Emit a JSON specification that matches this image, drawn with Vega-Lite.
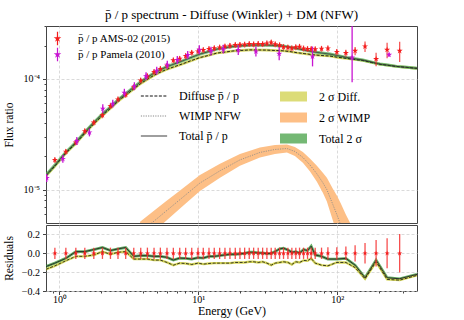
{
"$schema": "https://vega.github.io/schema/vega-lite/v6.json",
"padding": {"left": 2, "top": 8, "right": 10, "bottom": 2},
"config": {
 "font": "Liberation Serif",
 "view": {"stroke": "#444", "strokeWidth": 1},
 "axis": {"labelFont": "Liberation Serif", "titleFont": "Liberation Serif", "labelFontSize": 10, "titleFontSize": 11.5, "titleFontWeight": "normal", "labelColor": "#000", "titleColor": "#000", "tickColor": "#444", "gridColor": "#d0d0d0", "gridDash": [3, 2], "gridWidth": 0.8, "domain": false, "tickSize": 3.5, "labelOverlap": false},
 "legend": {"labelFont": "Liberation Serif", "labelColor": "#000"},
 "title": {"font": "Liberation Serif", "fontSize": 13, "fontWeight": "normal", "color": "#000"}
},
"datasets": {
 "ams": [
  {"E":0.927,"R":1.85e-5,"lo":1.739e-5,"hi":1.961e-5,"rlo":-0.06,"rhi":0.06},
  {"E":1.112,"R":2.20e-5,"lo":2.068e-5,"hi":2.332e-5,"rlo":-0.06,"rhi":0.06},
  {"E":1.312,"R":2.67e-5,"lo":2.510e-5,"hi":2.830e-5,"rlo":-0.06,"rhi":0.06},
  {"E":1.523,"R":3.37e-5,"lo":3.168e-5,"hi":3.572e-5,"rlo":-0.06,"rhi":0.06},
  {"E":1.768,"R":4.03e-5,"lo":3.788e-5,"hi":4.272e-5,"rlo":-0.06,"rhi":0.06},
  {"E":2.04,"R":4.69e-5,"lo":4.409e-5,"hi":4.971e-5,"rlo":-0.06,"rhi":0.06},
  {"E":2.33,"R":5.69e-5,"lo":5.349e-5,"hi":6.031e-5,"rlo":-0.06,"rhi":0.06},
  {"E":2.64,"R":6.53e-5,"lo":6.138e-5,"hi":6.922e-5,"rlo":-0.06,"rhi":0.06},
  {"E":3.00,"R":7.19e-5,"lo":6.759e-5,"hi":7.621e-5,"rlo":-0.06,"rhi":0.06},
  {"E":3.43,"R":8.41e-5,"lo":7.905e-5,"hi":8.915e-5,"rlo":-0.06,"rhi":0.06},
  {"E":3.85,"R":9.66e-5,"lo":9.080e-5,"hi":1.024e-4,"rlo":-0.06,"rhi":0.06},
  {"E":4.30,"R":1.055e-4,"lo":9.917e-5,"hi":1.118e-4,"rlo":-0.06,"rhi":0.06},
  {"E":4.80,"R":1.155e-4,"lo":1.086e-4,"hi":1.224e-4,"rlo":-0.06,"rhi":0.06},
  {"E":5.33,"R":1.23e-4,"lo":1.156e-4,"hi":1.304e-4,"rlo":-0.06,"rhi":0.06},
  {"E":5.95,"R":1.315e-4,"lo":1.236e-4,"hi":1.394e-4,"rlo":-0.06,"rhi":0.06},
  {"E":6.61,"R":1.47e-4,"lo":1.382e-4,"hi":1.558e-4,"rlo":-0.06,"rhi":0.06},
  {"E":7.35,"R":1.52e-4,"lo":1.429e-4,"hi":1.611e-4,"rlo":-0.06,"rhi":0.06},
  {"E":8.11,"R":1.61e-4,"lo":1.513e-4,"hi":1.707e-4,"rlo":-0.06,"rhi":0.06},
  {"E":8.97,"R":1.72e-4,"lo":1.617e-4,"hi":1.823e-4,"rlo":-0.06,"rhi":0.06},
  {"E":9.95,"R":1.77e-4,"lo":1.664e-4,"hi":1.876e-4,"rlo":-0.06,"rhi":0.06},
  {"E":10.86,"R":1.82e-4,"lo":1.711e-4,"hi":1.929e-4,"rlo":-0.06,"rhi":0.06},
  {"E":11.94,"R":1.86e-4,"lo":1.748e-4,"hi":1.972e-4,"rlo":-0.06,"rhi":0.06},
  {"E":13.03,"R":1.89e-4,"lo":1.777e-4,"hi":2.003e-4,"rlo":-0.06,"rhi":0.06},
  {"E":14.25,"R":1.92e-4,"lo":1.805e-4,"hi":2.035e-4,"rlo":-0.06,"rhi":0.06},
  {"E":15.56,"R":1.96e-4,"lo":1.842e-4,"hi":2.078e-4,"rlo":-0.06,"rhi":0.06},
  {"E":16.90,"R":1.99e-4,"lo":1.871e-4,"hi":2.109e-4,"rlo":-0.06,"rhi":0.06},
  {"E":18.46,"R":2.02e-4,"lo":1.899e-4,"hi":2.141e-4,"rlo":-0.06,"rhi":0.06},
  {"E":19.95,"R":2.03e-4,"lo":1.908e-4,"hi":2.152e-4,"rlo":-0.06,"rhi":0.06},
  {"E":21.57,"R":2.04e-4,"lo":1.918e-4,"hi":2.162e-4,"rlo":-0.06,"rhi":0.06},
  {"E":23.28,"R":2.06e-4,"lo":1.936e-4,"hi":2.184e-4,"rlo":-0.06,"rhi":0.06},
  {"E":25.03,"R":2.05e-4,"lo":1.927e-4,"hi":2.173e-4,"rlo":-0.06,"rhi":0.06},
  {"E":27.0,"R":2.07e-4,"lo":1.946e-4,"hi":2.194e-4,"rlo":-0.06,"rhi":0.06},
  {"E":29.06,"R":2.06e-4,"lo":1.936e-4,"hi":2.184e-4,"rlo":-0.06,"rhi":0.06},
  {"E":31.2,"R":2.09e-4,"lo":1.965e-4,"hi":2.215e-4,"rlo":-0.06,"rhi":0.06},
  {"E":33.5,"R":2.13e-4,"lo":2.002e-4,"hi":2.258e-4,"rlo":-0.06,"rhi":0.06},
  {"E":35.8,"R":2.05e-4,"lo":1.927e-4,"hi":2.173e-4,"rlo":-0.06,"rhi":0.06},
  {"E":38.5,"R":2.01e-4,"lo":1.889e-4,"hi":2.131e-4,"rlo":-0.06,"rhi":0.06},
  {"E":41.1,"R":1.94e-4,"lo":1.824e-4,"hi":2.056e-4,"rlo":-0.06,"rhi":0.06},
  {"E":44.2,"R":1.92e-4,"lo":1.805e-4,"hi":2.035e-4,"rlo":-0.06,"rhi":0.06},
  {"E":47.2,"R":1.89e-4,"lo":1.777e-4,"hi":2.003e-4,"rlo":-0.06,"rhi":0.06},
  {"E":50.4,"R":1.93e-4,"lo":1.814e-4,"hi":2.046e-4,"rlo":-0.06,"rhi":0.06},
  {"E":53.6,"R":1.95e-4,"lo":1.833e-4,"hi":2.067e-4,"rlo":-0.06,"rhi":0.06},
  {"E":57.3,"R":1.88e-4,"lo":1.767e-4,"hi":1.993e-4,"rlo":-0.06,"rhi":0.06},
  {"E":61.2,"R":1.86e-4,"lo":1.748e-4,"hi":1.972e-4,"rlo":-0.06,"rhi":0.06},
  {"E":65.0,"R":1.86e-4,"lo":1.748e-4,"hi":1.972e-4,"rlo":-0.06,"rhi":0.06},
  {"E":69.5,"R":1.85e-4,"lo":1.739e-4,"hi":1.961e-4,"rlo":-0.06,"rhi":0.06},
  {"E":77.2,"R":1.87e-4,"lo":1.758e-4,"hi":1.982e-4,"rlo":-0.06,"rhi":0.06},
  {"E":85.8,"R":1.88e-4,"lo":1.758e-4,"hi":2.002e-4,"rlo":-0.065,"rhi":0.065},
  {"E":99.5,"R":1.75e-4,"lo":1.636e-4,"hi":1.864e-4,"rlo":-0.065,"rhi":0.065},
  {"E":115.6,"R":1.71e-4,"lo":1.587e-4,"hi":1.833e-4,"rlo":-0.072,"rhi":0.072},
  {"E":134.7,"R":1.79e-4,"lo":1.636e-4,"hi":1.944e-4,"rlo":-0.086,"rhi":0.086},
  {"E":158.8,"R":1.96e-4,"lo":1.748e-4,"hi":2.172e-4,"rlo":-0.108,"rhi":0.108},
  {"E":190.8,"R":1.51e-4,"lo":1.299e-4,"hi":1.721e-4,"rlo":-0.14,"rhi":0.14},
  {"E":229,"R":1.83e-4,"lo":1.537e-4,"hi":2.123e-4,"rlo":-0.16,"rhi":0.16},
  {"E":282,"R":1.79e-4,"lo":1.423e-4,"hi":2.157e-4,"rlo":-0.205,"rhi":0.205}
 ],
 "pamela": [
  {"E":0.81,"R":1.273e-5,"lo":1.172e-5,"hi":1.382e-5},
  {"E":1.058,"R":1.895e-5,"lo":1.745e-5,"hi":2.058e-5},
  {"E":1.334,"R":2.745e-5,"lo":2.528e-5,"hi":2.981e-5},
  {"E":1.644,"R":3.285e-5,"lo":3.025e-5,"hi":3.568e-5},
  {"E":2.052,"R":5.386e-5,"lo":4.910e-5,"hi":5.908e-5},
  {"E":2.422,"R":5.973e-5,"lo":5.500e-5,"hi":6.487e-5},
  {"E":2.935,"R":7.49e-5,"lo":6.897e-5,"hi":8.134e-5},
  {"E":3.464,"R":8.585e-5,"lo":7.905e-5,"hi":9.323e-5},
  {"E":4.205,"R":1.055e-4,"lo":9.715e-5,"hi":1.146e-4},
  {"E":5.021,"R":1.186e-4,"lo":1.092e-4,"hi":1.288e-4},
  {"E":5.98,"R":1.343e-4,"lo":1.237e-4,"hi":1.458e-4},
  {"E":7.06,"R":1.479e-4,"lo":1.362e-4,"hi":1.606e-4},
  {"E":8.39,"R":1.64e-4,"lo":1.510e-4,"hi":1.781e-4},
  {"E":10.17,"R":1.83e-4,"lo":1.668e-4,"hi":2.008e-4},
  {"E":12.34,"R":1.781e-4,"lo":1.624e-4,"hi":1.954e-4},
  {"E":15.13,"R":1.856e-4,"lo":1.692e-4,"hi":2.036e-4},
  {"E":19.4,"R":1.818e-4,"lo":1.639e-4,"hi":2.016e-4},
  {"E":26.0,"R":1.767e-4,"lo":1.593e-4,"hi":1.960e-4},
  {"E":38.25,"R":1.684e-4,"lo":1.472e-4,"hi":1.926e-4},
  {"E":66.5,"R":1.593e-4,"lo":1.296e-4,"hi":1.958e-4},
  {"E":128.2,"R":1.561e-4,"lo":9.3e-5,"hi":3.4e-4},
  {"E":236.6,"R":1.65e-4,"lo":1.583e-4,"hi":1.719e-4}
 ],
 "curves": [
  {"E":0.802,"total":1.362e-5,"diffuse":1.334e-5},
  {"E":0.931,"total":1.674e-5,"diffuse":1.640e-5},
  {"E":1.099,"total":2.144e-5,"diffuse":2.100e-5},
  {"E":1.318,"total":2.690e-5,"diffuse":2.635e-5},
  {"E":1.556,"total":3.409e-5,"diffuse":3.326e-5},
  {"E":1.777,"total":4.063e-5,"diffuse":3.956e-5},
  {"E":2.029,"total":4.791e-5,"diffuse":4.645e-5},
  {"E":2.355,"total":5.649e-5,"diffuse":5.477e-5},
  {"E":2.689,"total":6.596e-5,"diffuse":6.395e-5},
  {"E":3.019,"total":7.385e-5,"diffuse":7.160e-5},
  {"E":3.446,"total":8.446e-5,"diffuse":8.155e-5},
  {"E":3.870,"total":9.458e-5,"diffuse":9.114e-5},
  {"E":4.275,"total":1.027e-4,"diffuse":9.855e-5},
  {"E":4.800,"total":1.127e-4,"diffuse":1.077e-4},
  {"E":5.392,"total":1.216e-4,"diffuse":1.157e-4},
  {"E":5.954,"total":1.288e-4,"diffuse":1.221e-4},
  {"E":6.800,"total":1.371e-4,"diffuse":1.294e-4},
  {"E":7.763,"total":1.458e-4,"diffuse":1.371e-4},
  {"E":8.861,"total":1.558e-4,"diffuse":1.459e-4},
  {"E":10.28,"total":1.674e-4,"diffuse":1.557e-4},
  {"E":11.74,"total":1.755e-4,"diffuse":1.623e-4},
  {"E":13.63,"total":1.856e-4,"diffuse":1.709e-4},
  {"E":15.56,"total":1.906e-4,"diffuse":1.744e-4},
  {"E":17.77,"total":1.958e-4,"diffuse":1.785e-4},
  {"E":20.63,"total":1.991e-4,"diffuse":1.807e-4},
  {"E":23.55,"total":2.015e-4,"diffuse":1.825e-4},
  {"E":26.89,"total":2.019e-4,"diffuse":1.822e-4},
  {"E":31.21,"total":2.015e-4,"diffuse":1.818e-4},
  {"E":35.63,"total":1.999e-4,"diffuse":1.804e-4},
  {"E":40.68,"total":1.978e-4,"diffuse":1.792e-4},
  {"E":45.67,"total":1.934e-4,"diffuse":1.763e-4},
  {"E":51.30,"total":1.879e-4,"diffuse":1.723e-4},
  {"E":58.56,"total":1.818e-4,"diffuse":1.688e-4},
  {"E":66.86,"total":1.755e-4,"diffuse":1.650e-4},
  {"E":77.62,"total":1.709e-4,"diffuse":1.623e-4},
  {"E":88.61,"total":1.674e-4,"diffuse":1.606e-4},
  {"E":101.2,"total":1.620e-4,"diffuse":1.564e-4},
  {"E":117.5,"total":1.561e-4,"diffuse":1.529e-4},
  {"E":134.1,"total":1.519e-4,"diffuse":1.494e-4},
  {"E":153.1,"total":1.480e-4,"diffuse":1.465e-4},
  {"E":177.7,"total":1.417e-4,"diffuse":1.405e-4},
  {"E":202.9,"total":1.362e-4,"diffuse":1.354e-4},
  {"E":231.6,"total":1.331e-4,"diffuse":1.326e-4},
  {"E":268.9,"total":1.296e-4,"diffuse":1.293e-4},
  {"E":317.3,"total":1.270e-4,"diffuse":1.270e-4},
  {"E":376,"total":1.244e-4,"diffuse":1.244e-4}
 ],
 "wimp": [
  {"E":3.807,"wimp":4.10e-6,"lo":3.26e-6,"hi":5.14e-6},
  {"E":4.645,"wimp":5.03e-6,"lo":4.05e-6,"hi":6.25e-6},
  {"E":5.76,"wimp":6.29e-6,"lo":5.12e-6,"hi":7.73e-6},
  {"E":7.385,"wimp":8.14e-6,"lo":6.76e-6,"hi":9.80e-6},
  {"E":10.28,"wimp":1.148e-5,"lo":9.74e-6,"hi":1.354e-5},
  {"E":14.33,"wimp":1.480e-5,"lo":1.281e-5,"hi":1.709e-5},
  {"E":19.95,"wimp":1.856e-5,"lo":1.640e-5,"hi":2.101e-5},
  {"E":27.79,"wimp":2.167e-5,"lo":1.954e-5,"hi":2.402e-5},
  {"E":35.63,"wimp":2.305e-5,"lo":2.101e-5,"hi":2.529e-5},
  {"E":43.47,"wimp":2.352e-5,"lo":2.167e-5,"hi":2.555e-5},
  {"E":49.63,"wimp":2.212e-5,"lo":2.015e-5,"hi":2.427e-5},
  {"E":56.65,"wimp":1.954e-5,"lo":1.745e-5,"hi":2.189e-5},
  {"E":63.62,"wimp":1.674e-5,"lo":1.464e-5,"hi":1.914e-5},
  {"E":71.45,"wimp":1.390e-5,"lo":1.179e-5,"hi":1.640e-5},
  {"E":78.89,"wimp":1.155e-5,"lo":9.40e-6,"hi":1.420e-5},
  {"E":84.32,"wimp":1.0e-5,"lo":7.81e-6,"hi":1.281e-5},
  {"E":93.13,"wimp":7.34e-6,"lo":5.28e-6,"hi":1.021e-5},
  {"E":99.5,"wimp":5.97e-6,"lo":4.04e-6,"hi":8.84e-6},
  {"E":106.3,"wimp":4.76e-6,"lo":3.03e-6,"hi":7.49e-6},
  {"E":115.5,"wimp":3.57e-6,"lo":2.13e-6,"hi":5.97e-6},
  {"E":127.6,"wimp":2.62e-6,"lo":1.47e-6,"hi":4.66e-6}
 ],
 "resid": [
  {"E":0.80,"rt":-0.1405,"rd":-0.1694},
  {"E":0.927,"rt":-0.1045,"rd":-0.1333},
  {"E":1.112,"rt":-0.054,"rd":-0.0793},
  {"E":1.312,"rt":0.018,"rd":-0.0324},
  {"E":1.523,"rt":0.018,"rd":-0.0324},
  {"E":1.768,"rt":0.0396,"rd":-0.018},
  {"E":2.04,"rt":0.0613,"rd":0.018},
  {"E":2.33,"rt":0.0288,"rd":-0.0108},
  {"E":2.64,"rt":0.0468,"rd":0.0108},
  {"E":3.00,"rt":0.0613,"rd":0.018},
  {"E":3.43,"rt":-0.0324,"rd":-0.0613},
  {"E":3.85,"rt":-0.0252,"rd":-0.0613},
  {"E":4.30,"rt":-0.0252,"rd":-0.0613},
  {"E":4.80,"rt":-0.0324,"rd":-0.0721},
  {"E":5.33,"rt":-0.0324,"rd":-0.0721},
  {"E":5.95,"rt":-0.0432,"rd":-0.0973},
  {"E":6.61,"rt":-0.0721,"rd":-0.1261},
  {"E":7.35,"rt":-0.0505,"rd":-0.1045},
  {"E":8.11,"rt":-0.0541,"rd":-0.1081},
  {"E":8.97,"rt":-0.0613,"rd":-0.1189},
  {"E":9.95,"rt":-0.0468,"rd":-0.1045},
  {"E":10.86,"rt":-0.0505,"rd":-0.1153},
  {"E":11.94,"rt":-0.0324,"rd":-0.1081},
  {"E":13.03,"rt":-0.0324,"rd":-0.1045},
  {"E":14.25,"rt":-0.0252,"rd":-0.1045},
  {"E":15.56,"rt":-0.018,"rd":-0.1045},
  {"E":16.90,"rt":-0.0108,"rd":-0.1045},
  {"E":18.46,"rt":-0.0108,"rd":-0.0973},
  {"E":19.95,"rt":-0.0072,"rd":-0.0973},
  {"E":21.57,"rt":0,"rd":-0.0973},
  {"E":23.28,"rt":0.0108,"rd":-0.0901},
  {"E":25.03,"rt":0.0108,"rd":-0.0901},
  {"E":27.0,"rt":0.0036,"rd":-0.0973},
  {"E":29.06,"rt":0.0036,"rd":-0.0901},
  {"E":31.2,"rt":-0.0036,"rd":-0.1045},
  {"E":33.5,"rt":0,"rd":-0.1261},
  {"E":35.8,"rt":0.018,"rd":-0.1045},
  {"E":38.5,"rt":0.0468,"rd":-0.0973},
  {"E":41.1,"rt":0.054,"rd":-0.0901},
  {"E":44.2,"rt":0.036,"rd":-0.0973},
  {"E":47.2,"rt":0.0108,"rd":-0.1189},
  {"E":50.4,"rt":0.018,"rd":-0.0901},
  {"E":53.6,"rt":0.0036,"rd":-0.0973},
  {"E":57.3,"rt":0.0396,"rd":-0.0757},
  {"E":61.2,"rt":0.0288,"rd":-0.0793},
  {"E":65.0,"rt":0.0757,"rd":-0.0541},
  {"E":69.5,"rt":-0.018,"rd":-0.1045},
  {"E":77.2,"rt":-0.0324,"rd":-0.1261},
  {"E":85.8,"rt":-0.0613,"rd":-0.1333},
  {"E":99.5,"rt":-0.0613,"rd":-0.0973},
  {"E":115.6,"rt":-0.0541,"rd":-0.0973},
  {"E":134.7,"rt":-0.1261,"rd":-0.1514},
  {"E":158.8,"rt":-0.2595,"rd":-0.2703},
  {"E":190.8,"rt":-0.0721,"rd":-0.0901},
  {"E":229,"rt":-0.2595,"rd":-0.2775},
  {"E":282,"rt":-0.2703,"rd":-0.2847},
  {"E":376,"rt":-0.2234,"rd":-0.2342}
 ]
},
"spacing": 0,
"vconcat": [
 {
  "width": 371, "height": 197,
  "title": {"text": "p\u0304 / p spectrum - Diffuse (Winkler) + DM (NFW)", "offset": 4},
  "resolve": {"axis": {"y": "independent"}},
  "layer": [
   {"data": {"name": "wimp"},
    "mark": {"type": "area", "clip": true, "opacity": 1},
    "encoding": {
     "x": {"field": "E", "type": "quantitative", "scale": {"type": "log", "domain": [0.8, 376], "nice": false},
           "axis": {"orient": "top", "values": [1, 10, 100], "tickCount": 20, "labels": false, "ticks": false, "grid": true, "title": null, "minExtent": 0, "maxExtent": 0}},
     "y": {"field": "lo", "type": "quantitative", "scale": {"type": "log", "domain": [5e-6, 3e-4], "nice": false},
           "axis": {"orient": "left", "values": [6e-6, 7e-6, 8e-6, 9e-6, 2e-5, 3e-5, 4e-5, 5e-5, 6e-5, 7e-5, 8e-5, 9e-5, 2e-4, 3e-4], "tickCount": 50, "labels": false, "grid": false, "tickSize": 2, "title": null, "minExtent": 30, "maxExtent": 30}},
     "y2": {"field": "hi"},
     "fill": {"datum": "2 σ WIMP", "type": "nominal",
              "scale": {"domain": ["2 σ Diff.", "2 σ WIMP", "Total 2 σ"], "range": ["#dcdc78", "#fdbf86", "#74b874"]},
              "legend": {"orient": "none", "legendX": 233, "legendY": 56, "title": null, "symbolType": "M-1,-0.37H1V0.37H-1Z", "symbolSize": 729, "labelFontSize": 12, "labelOffset": 11, "rowPadding": -1, "padding": 0}}
    }},
   {"data": {"name": "curves"},
    "mark": {"type": "line", "clip": true, "stroke": "#cccc44", "strokeWidth": 2.6, "opacity": 0.85},
    "encoding": {
     "x": {"field": "E", "type": "quantitative"},
     "y": {"field": "diffuse", "type": "quantitative", "axis": null}
    }},
   {"data": {"name": "curves"},
    "mark": {"type": "line", "clip": true, "stroke": "#5aae5a", "strokeWidth": 3, "opacity": 0.8},
    "encoding": {
     "x": {"field": "E", "type": "quantitative"},
     "y": {"field": "total", "type": "quantitative",
           "axis": {"orient": "left", "values": [1e-5, 1e-4], "tickCount": 20, "labelExpr": "datum.value < 5e-5 ? '10⁻⁵' : '10⁻⁴'", "grid": true, "title": "Flux ratio", "titlePadding": 2, "labelPadding": 3, "minExtent": 30, "maxExtent": 30}}
    }},
   {"data": {"name": "curves"},
    "transform": [{"fold": ["diffuse", "total"], "as": ["line", "v"]}],
    "mark": {"type": "line", "clip": true, "strokeWidth": 0.9},
    "encoding": {
     "x": {"field": "E", "type": "quantitative"},
     "y": {"field": "v", "type": "quantitative", "axis": null},
     "stroke": {"field": "line", "type": "nominal",
                "scale": {"domain": ["diffuse", "wimp", "total"], "range": ["#111111", "#888888", "#333333"]},
                "legend": {"orient": "none", "legendX": 94, "legendY": 56, "title": null, "symbolType": "stroke", "symbolSize": 690, "symbolStrokeWidth": 1, "labelFontSize": 12, "labelOffset": 11, "rowPadding": -1, "padding": 0, "labelExpr": "datum.label == 'diffuse' ? 'Diffuse p\u0304 / p' : (datum.label == 'wimp' ? 'WIMP NFW' : 'Total p\u0304 / p')"}},
     "strokeDash": {"field": "line", "type": "nominal",
                "scale": {"domain": ["diffuse", "wimp", "total"], "range": [[3, 1.5], [1.2, 1.2], [1, 0]]},
                "legend": {"orient": "none", "legendX": 94, "legendY": 56, "title": null, "symbolType": "stroke", "symbolSize": 690, "symbolStrokeWidth": 1, "labelFontSize": 12, "labelOffset": 11, "rowPadding": -1, "padding": 0, "labelExpr": "datum.label == 'diffuse' ? 'Diffuse p\u0304 / p' : (datum.label == 'wimp' ? 'WIMP NFW' : 'Total p\u0304 / p')"}}
    }},
   {"data": {"name": "wimp"},
    "transform": [{"fold": ["wimp"], "as": ["line", "v"]}],
    "mark": {"type": "line", "clip": true, "strokeWidth": 0.8},
    "encoding": {
     "x": {"field": "E", "type": "quantitative"},
     "y": {"field": "v", "type": "quantitative", "axis": null},
     "stroke": {"field": "line", "type": "nominal"},
     "strokeDash": {"field": "line", "type": "nominal"}
    }},
   {"data": {"name": "ams"},
    "mark": {"type": "rule", "clip": true, "stroke": "#f43030", "strokeWidth": 1.3, "opacity": 0.8},
    "encoding": {
     "x": {"field": "E", "type": "quantitative"},
     "y": {"field": "lo", "type": "quantitative", "axis": null},
     "y2": {"field": "hi"}
    }},
   {"data": {"name": "ams"},
    "mark": {"type": "point", "clip": true, "filled": true, "opacity": 1, "size": 40, "strokeWidth": 0, "shape": "M0,-1L0.225,-0.309L0.951,-0.309L0.363,0.118L0.588,0.809L0,0.382L-0.588,0.809L-0.363,0.118L-0.951,-0.309L-0.225,-0.309Z"},
    "encoding": {
     "x": {"field": "E", "type": "quantitative"},
     "y": {"field": "R", "type": "quantitative", "axis": null},
     "color": {"datum": "p\u0304 / p AMS-02 (2015)", "type": "nominal",
               "scale": {"domain": ["p\u0304 / p AMS-02 (2015)", "p\u0304 / p Pamela (2010)"], "range": ["#f41c1c", "#c814d2"]},
               "legend": {"orient": "none", "legendX": 6, "legendY": 7, "title": null, "symbolType": "M0,-1L0.225,-0.309L0.951,-0.309L0.363,0.118L0.588,0.809L0,0.382L-0.588,0.809L-0.363,0.118L-0.951,-0.309L-0.225,-0.309ZM-0.15,-1.7H0.15V1.7H-0.15Z", "symbolSize": 64, "symbolStrokeWidth": 0, "labelFontSize": 11, "labelOffset": 15, "rowPadding": 1, "padding": 0}}
    }},
   {"data": {"name": "pamela"},
    "mark": {"type": "rule", "clip": true, "stroke": "#c814d2", "strokeWidth": 1.3},
    "encoding": {
     "x": {"field": "E", "type": "quantitative"},
     "y": {"field": "lo", "type": "quantitative", "axis": null},
     "y2": {"field": "hi"}
    }},
   {"data": {"name": "pamela"},
    "mark": {"type": "point", "clip": true, "filled": true, "opacity": 1, "size": 40, "strokeWidth": 0, "shape": "M0,-1L0.225,-0.309L0.951,-0.309L0.363,0.118L0.588,0.809L0,0.382L-0.588,0.809L-0.363,0.118L-0.951,-0.309L-0.225,-0.309Z"},
    "encoding": {
     "x": {"field": "E", "type": "quantitative"},
     "y": {"field": "R", "type": "quantitative", "axis": null},
     "color": {"datum": "p\u0304 / p Pamela (2010)", "type": "nominal"}
    }}
  ]
 },
 {
  "width": 371, "height": 66,
  "resolve": {"axis": {"x": "independent"}},
  "layer": [
   {"data": {"name": "resid"},
    "mark": {"type": "line", "clip": true, "stroke": "#3f9a3f", "strokeWidth": 2.8, "opacity": 0.8},
    "encoding": {
     "x": {"field": "E", "type": "quantitative", "scale": {"type": "log", "domain": [0.8, 376], "nice": false},
           "axis": {"orient": "bottom", "values": [0.9, 2, 3, 4, 5, 6, 7, 8, 9, 20, 30, 40, 50, 60, 70, 80, 90, 200, 300], "tickCount": 50, "labels": false, "grid": false, "tickSize": 2, "title": null}},
     "y": {"field": "rt", "type": "quantitative", "scale": {"domain": [-0.4, 0.3], "nice": false, "zero": false},
           "axis": {"values": [-0.4, -0.2, 0, 0.2], "tickCount": 20, "labelExpr": "datum.value > 0.1 ? '0.2' : (datum.value > -0.1 ? '0.0' : (datum.value > -0.3 ? '−0.2' : '−0.4'))", "labelOverlap": false, "labelBound": false, "grid": true, "title": "Residuals", "titlePadding": 2, "labelPadding": 3, "minExtent": 30, "maxExtent": 30}}
    }},
   {"data": {"name": "resid"},
    "mark": {"type": "line", "clip": true, "stroke": "#d4d44a", "strokeWidth": 2.4, "opacity": 0.9},
    "encoding": {
     "x": {"field": "E", "type": "quantitative", "axis": null},
     "y": {"field": "rd", "type": "quantitative"}
    }},
   {"data": {"name": "resid"},
    "mark": {"type": "line", "clip": true, "stroke": "#111111", "strokeWidth": 0.8, "strokeDash": [3, 1.5]},
    "encoding": {
     "x": {"field": "E", "type": "quantitative", "axis": null},
     "y": {"field": "rd", "type": "quantitative"}
    }},
   {"data": {"name": "resid"},
    "mark": {"type": "line", "clip": true, "stroke": "#222222", "strokeWidth": 0.9},
    "encoding": {
     "x": {"field": "E", "type": "quantitative",
           "axis": {"orient": "bottom", "values": [1, 10, 100], "tickCount": 20, "labelExpr": "datum.value < 5 ? '10⁰' : (datum.value < 50 ? '10¹' : '10²')", "grid": true, "title": "Energy (GeV)", "titleFontSize": 12, "tickSize": 3.5, "labelPadding": 0, "titlePadding": 1}},
     "y": {"field": "rt", "type": "quantitative"}
    }},
   {"data": {"name": "ams"},
    "mark": {"type": "rule", "clip": true, "stroke": "#f43030", "strokeWidth": 1.3, "opacity": 0.85},
    "encoding": {
     "x": {"field": "E", "type": "quantitative", "axis": null},
     "y": {"field": "rlo", "type": "quantitative"},
     "y2": {"field": "rhi"}
    }},
   {"data": {"name": "ams"},
    "mark": {"type": "point", "clip": true, "filled": true, "opacity": 1, "size": 30, "strokeWidth": 0, "color": "#f41c1c", "shape": "M0,-1L0.225,-0.309L0.951,-0.309L0.363,0.118L0.588,0.809L0,0.382L-0.588,0.809L-0.363,0.118L-0.951,-0.309L-0.225,-0.309Z"},
    "encoding": {
     "x": {"field": "E", "type": "quantitative", "axis": null},
     "y": {"datum": 0, "type": "quantitative"}
    }}
  ]
 }
]
}
